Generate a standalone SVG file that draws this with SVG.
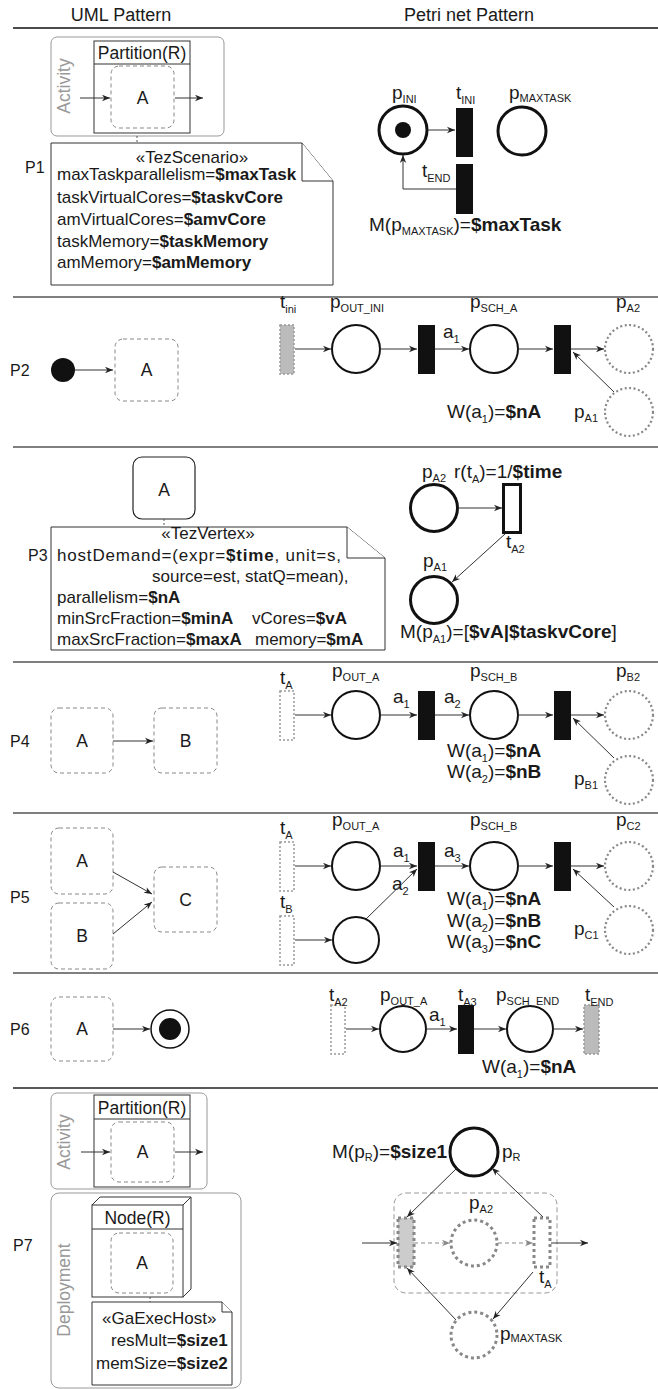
<svg xmlns="http://www.w3.org/2000/svg" width="658" height="1389" viewBox="0 0 658 1389">
<defs>
<style>
.t{font-family:"Liberation Sans",Arial,sans-serif;fill:#1a1a1a}
.hd{font-size:18px}
.pn{font-size:16px}
.ui{font-size:17.5px}
.nt{font-size:17px}
.pl{font-size:19px}
.sub{font-size:11px}
.b{font-weight:bold}
.gr{fill:#999}
.sep{stroke:#555;stroke-width:1.5}
.db{fill:none;stroke:#888;stroke-width:1;stroke-dasharray:4 3}
.box{fill:none;stroke:#333;stroke-width:1}
.gbox{fill:none;stroke:#999;stroke-width:1}
.ar{stroke:#333;stroke-width:1;fill:none;marker-end:url(#ah)}
.gar{stroke:#888;stroke-width:1;fill:none;stroke-dasharray:4 3;marker-end:url(#gah)}
.pc{fill:#fff;stroke:#111;stroke-width:2}
.tc{fill:#fff;stroke:#111;stroke-width:3}
.dc{fill:none;stroke:#888;stroke-width:2.2;stroke-dasharray:2 2.5}
.dc7{fill:none;stroke:#888;stroke-width:3;stroke-dasharray:3 3}
.bt{fill:#111}
.dt{fill:#fff;stroke:#999;stroke-width:1.5;stroke-dasharray:2 2}
.gt{fill:#bbb;stroke:#999;stroke-width:1.5;stroke-dasharray:2 2}
.dt7{fill:#fff;stroke:#888;stroke-width:3;stroke-dasharray:3 3}
.gt7{fill:#ccc;stroke:#888;stroke-width:3;stroke-dasharray:3 3}
.note{fill:#fff;stroke:#333;stroke-width:1}
</style>
<marker id="ah" viewBox="0 0 10 10" refX="10" refY="5" markerWidth="8" markerHeight="8" markerUnits="userSpaceOnUse" orient="auto"><path d="M0,1 L10,5 L0,9 L3,5 z" fill="#222"/></marker>
<marker id="gah" viewBox="0 0 10 10" refX="10" refY="5" markerWidth="8" markerHeight="8" markerUnits="userSpaceOnUse" orient="auto"><path d="M0,1 L10,5 L0,9 L3,5 z" fill="#888"/></marker>
</defs>
<rect width="658" height="1389" fill="#fff"/>

<g id="headers">
<text class="t hd" x="121" y="21" text-anchor="middle">UML Pattern</text>
<text class="t hd" x="469" y="21" text-anchor="middle">Petri net Pattern</text>
<line x1="13" y1="28" x2="658" y2="28" stroke="#111" stroke-width="1.5"/>
<line class="sep" x1="13" y1="297" x2="658" y2="297"/>
<line class="sep" x1="13" y1="447" x2="658" y2="447"/>
<line class="sep" x1="13" y1="662" x2="658" y2="662"/>
<line class="sep" x1="13" y1="813" x2="658" y2="813"/>
<line class="sep" x1="13" y1="973" x2="658" y2="973"/>
<line x1="13" y1="1088" x2="658" y2="1088" stroke="#222" stroke-width="1.5"/>
</g>

<g id="labels">
<text class="t pn" x="25" y="173">P1</text>
<text class="t pn" x="10" y="376">P2</text>
<text class="t pn" x="28" y="561">P3</text>
<text class="t pn" x="10" y="747">P4</text>
<text class="t pn" x="10" y="903">P5</text>
<text class="t pn" x="10" y="1035">P6</text>
<text class="t pn" x="13" y="1251">P7</text>
</g>

<!-- P1 UML -->
<g id="p1-activity">
<rect class="gbox" x="51" y="37" width="173" height="99" rx="6"/>
<text class="t ui gr" transform="translate(70,86) rotate(-90)" text-anchor="middle">Activity</text>
</g>
<g id="p1-partition">
<rect class="box" x="94" y="41" width="96" height="92"/>
<line class="box" x1="94" y1="64" x2="190" y2="64"/>
<text class="t ui" x="142" y="59" text-anchor="middle">Partition(R)</text>
</g>
<g id="p1-A">
<rect class="db" x="111" y="66" width="63" height="62" rx="8"/>
<text class="t ui" x="142.5" y="104" text-anchor="middle">A</text>
</g>
<g id="p1-note">
<path class="note" d="M51,143 H302 L333,181 V285 H51 Z"/>
<path class="note" fill="none" d="M302,143 V181 H333"/>
<text class="t nt" x="192" y="163" text-anchor="middle">«TezScenario»</text>
<text class="t nt" x="57" y="180">maxTaskparallelism=<tspan class="b">$maxTask</tspan></text>
<text class="t nt" x="57" y="203">taskVirtualCores=<tspan class="b">$taskvCore</tspan></text>
<text class="t nt" x="57" y="225">amVirtualCores=<tspan class="b">$amvCore</tspan></text>
<text class="t nt" x="57" y="247">taskMemory=<tspan class="b">$taskMemory</tspan></text>
<text class="t nt" x="57" y="268">amMemory=<tspan class="b">$amMemory</tspan></text>
</g>

<!-- P1 Petri -->
<g id="p1-pINI">
<circle class="tc" cx="403" cy="130" r="24"/>
<circle cx="403" cy="130" r="8" fill="#111"/>
<text class="t pl" x="392" y="99">p<tspan class="sub" dy="4">INI</tspan></text>
</g>
<g id="p1-tINI">
<rect class="bt" x="456" y="108" width="17" height="49"/>
<text class="t pl" x="456" y="99">t<tspan class="sub" dy="5">INI</tspan></text>
</g>
<g id="p1-tEND">
<rect class="bt" x="456" y="164" width="17" height="50"/>
<text class="t pl" x="422" y="177">t<tspan class="sub" dy="5">END</tspan></text>
</g>
<g id="p1-pMAXTASK">
<circle class="tc" cx="522" cy="131" r="24"/>
<text class="t pl" x="509" y="99">p<tspan class="sub" dy="3">MAXTASK</tspan></text>
</g>
<text class="t pl" x="369" y="231">M(p<tspan class="sub" dy="4">MAXTASK</tspan><tspan dy="-4">)=</tspan><tspan class="b">$maxTask</tspan></text>

<!-- P2 UML -->
<g id="p2-init">
<circle cx="63" cy="370" r="12" fill="#111"/>
</g>
<g id="p2-A">
<rect class="db" x="115" y="339" width="63" height="62" rx="8"/>
<text class="t ui" x="146.5" y="376" text-anchor="middle">A</text>
</g>

<!-- P2 Petri -->
<g id="p2-tini">
<rect class="gt" x="280" y="325" width="14" height="49"/>
<text class="t pl" x="280" y="308">t<tspan class="sub" dy="5">ini</tspan></text>
</g>
<g id="p2-pOUT">
<circle class="pc" cx="356" cy="349" r="24"/>
<text class="t pl" x="330" y="308">p<tspan class="sub" dy="4">OUT_INI</tspan></text>
</g>
<g id="p2-t1"><rect class="bt" x="418" y="325" width="17" height="49"/>
<text class="t pl" x="443" y="338">a<tspan class="sub" dy="5">1</tspan></text></g>
<g id="p2-pSCH">
<circle class="pc" cx="494" cy="349" r="24"/>
<text class="t pl" x="470" y="308">p<tspan class="sub" dy="4">SCH_A</tspan></text>
</g>
<g id="p2-t2"><rect class="bt" x="554" y="325" width="17" height="49"/></g>
<g id="p2-pA2">
<circle class="dc" cx="629" cy="349" r="24"/>
<text class="t pl" x="616" y="308">p<tspan class="sub" dy="4">A2</tspan></text>
</g>
<g id="p2-pA1">
<circle class="dc" cx="629" cy="412" r="24"/>
<text class="t pl" x="574" y="418">p<tspan class="sub" dy="4">A1</tspan></text>
</g>
<text class="t pl" x="447" y="418">W(a<tspan class="sub" dy="5">1</tspan><tspan dy="-5">)=</tspan><tspan class="b">$nA</tspan></text>

<!-- P3 UML -->
<g id="p3-A">
<rect x="133" y="457" width="62" height="62" rx="9" fill="none" stroke="#222" stroke-width="1.2"/>
<text class="t ui" x="164" y="496" text-anchor="middle">A</text>
</g>
<g id="p3-note">
<path class="note" d="M51,527 H347 L385,558 V650 H51 Z"/>
<path class="note" fill="none" d="M347,527 V558 H385"/>
<text class="t nt" x="208" y="539" text-anchor="middle">«TezVertex»</text>
<text class="t nt" x="57" y="561" textLength="284" lengthAdjust="spacing">hostDemand=(expr=<tspan class="b">$time</tspan>, unit=s,</text>
<text class="t nt" x="152" y="582">source=est, statQ=mean),</text>
<text class="t nt" x="57" y="603">parallelism=<tspan class="b">$nA</tspan></text>
<text class="t nt" x="57" y="624">minSrcFraction=<tspan class="b">$minA</tspan></text>
<text class="t nt" x="252" y="624">vCores=<tspan class="b">$vA</tspan></text>
<text class="t nt" x="57" y="645">maxSrcFraction=<tspan class="b">$maxA</tspan></text>
<text class="t nt" x="255" y="645">memory=<tspan class="b">$mA</tspan></text>
</g>

<!-- P3 Petri -->
<g id="p3-pA2">
<circle class="tc" cx="434" cy="508" r="23.5"/>
<text class="t pl" x="422" y="478">p<tspan class="sub" dy="4">A2</tspan></text>
</g>
<g id="p3-tA2">
<rect x="503.5" y="484.5" width="17" height="48" fill="#fff" stroke="#111" stroke-width="3"/>
<text class="t pl" x="454" y="478">r(t<tspan class="sub" dy="5">A</tspan><tspan dy="-5">)=1/</tspan><tspan class="b">$time</tspan></text>
<text class="t pl" x="506" y="548">t<tspan class="sub" dy="5">A2</tspan></text>
</g>
<g id="p3-pA1">
<circle class="tc" cx="434" cy="600" r="23.5"/>
<text class="t pl" x="423" y="567">p<tspan class="sub" dy="4">A1</tspan></text>
</g>
<text class="t pl" x="400" y="638">M(p<tspan class="sub" dy="5">A1</tspan><tspan dy="-5">)=[</tspan><tspan class="b">$vA|$taskvCore</tspan>]</text>

<!-- P4 UML -->
<g id="p4-A"><rect class="db" x="51" y="708" width="62" height="65" rx="8"/>
<text class="t ui" x="82" y="747" text-anchor="middle">A</text></g>
<g id="p4-B"><rect class="db" x="154" y="708" width="63" height="65" rx="8"/>
<text class="t ui" x="185.5" y="747" text-anchor="middle">B</text></g>

<!-- P4 Petri -->
<g id="p4-tA"><rect class="dt" x="280" y="691" width="14" height="49"/>
<text class="t pl" x="280" y="684">t<tspan class="sub" dy="5">A</tspan></text></g>
<g id="p4-pOUT"><circle class="pc" cx="356" cy="715" r="24"/>
<text class="t pl" x="332" y="677">p<tspan class="sub" dy="4">OUT_A</tspan></text></g>
<g id="p4-t1"><rect class="bt" x="418" y="691" width="17" height="49"/></g>
<text class="t pl" x="393" y="703">a<tspan class="sub" dy="5">1</tspan></text>
<text class="t pl" x="444" y="703">a<tspan class="sub" dy="5">2</tspan></text>
<g id="p4-pSCH"><circle class="pc" cx="494" cy="715" r="24"/>
<text class="t pl" x="470" y="677">p<tspan class="sub" dy="4">SCH_B</tspan></text></g>
<g id="p4-t2"><rect class="bt" x="554" y="691" width="17" height="49"/></g>
<g id="p4-pB2"><circle class="dc" cx="629" cy="715" r="24"/>
<text class="t pl" x="616" y="677">p<tspan class="sub" dy="4">B2</tspan></text></g>
<g id="p4-pB1"><circle class="dc" cx="629" cy="780" r="24"/>
<text class="t pl" x="574" y="785">p<tspan class="sub" dy="4">B1</tspan></text></g>
<text class="t pl" x="447" y="757">W(a<tspan class="sub" dy="5">1</tspan><tspan dy="-5">)=</tspan><tspan class="b">$nA</tspan></text>
<text class="t pl" x="447" y="778">W(a<tspan class="sub" dy="5">2</tspan><tspan dy="-5">)=</tspan><tspan class="b">$nB</tspan></text>

<!-- P5 UML -->
<g id="p5-A"><rect class="db" x="51" y="828" width="62" height="66" rx="8"/>
<text class="t ui" x="82" y="867" text-anchor="middle">A</text></g>
<g id="p5-B"><rect class="db" x="51" y="903" width="62" height="66" rx="8"/>
<text class="t ui" x="82" y="942" text-anchor="middle">B</text></g>
<g id="p5-C"><rect class="db" x="154" y="867" width="63" height="65" rx="8"/>
<text class="t ui" x="185.5" y="906" text-anchor="middle">C</text></g>

<!-- P5 Petri -->
<g id="p5-tA"><rect class="dt" x="280" y="842" width="14" height="49"/>
<text class="t pl" x="280" y="834">t<tspan class="sub" dy="5">A</tspan></text></g>
<g id="p5-tB"><rect class="dt" x="280" y="916" width="14" height="49"/>
<text class="t pl" x="280" y="908">t<tspan class="sub" dy="5">B</tspan></text></g>
<g id="p5-pOUT"><circle class="pc" cx="356" cy="866" r="24"/>
<text class="t pl" x="332" y="826">p<tspan class="sub" dy="4">OUT_A</tspan></text></g>
<g id="p5-pB"><circle class="pc" cx="356" cy="940" r="23"/></g>
<g id="p5-t1"><rect class="bt" x="418" y="842" width="17" height="49"/></g>
<text class="t pl" x="393" y="857">a<tspan class="sub" dy="5">1</tspan></text>
<text class="t pl" x="392" y="890">a<tspan class="sub" dy="5">2</tspan></text>
<text class="t pl" x="444" y="857">a<tspan class="sub" dy="5">3</tspan></text>
<g id="p5-pSCH"><circle class="pc" cx="494" cy="866" r="24"/>
<text class="t pl" x="470" y="826">p<tspan class="sub" dy="4">SCH_B</tspan></text></g>
<g id="p5-t2"><rect class="bt" x="554" y="842" width="17" height="49"/></g>
<g id="p5-pC2"><circle class="dc" cx="629" cy="866" r="24"/>
<text class="t pl" x="616" y="826">p<tspan class="sub" dy="4">C2</tspan></text></g>
<g id="p5-pC1"><circle class="dc" cx="629" cy="930" r="24"/>
<text class="t pl" x="574" y="935">p<tspan class="sub" dy="4">C1</tspan></text></g>
<text class="t pl" x="447" y="905">W(a<tspan class="sub" dy="5">1</tspan><tspan dy="-5">)=</tspan><tspan class="b">$nA</tspan></text>
<text class="t pl" x="447" y="927">W(a<tspan class="sub" dy="5">2</tspan><tspan dy="-5">)=</tspan><tspan class="b">$nB</tspan></text>
<text class="t pl" x="447" y="948">W(a<tspan class="sub" dy="5">3</tspan><tspan dy="-5">)=</tspan><tspan class="b">$nC</tspan></text>

<!-- P6 UML -->
<g id="p6-A"><rect class="db" x="51" y="997" width="62" height="64" rx="8"/>
<text class="t ui" x="82" y="1035" text-anchor="middle">A</text></g>
<g id="p6-final"><circle cx="170" cy="1029" r="19" fill="#fff" stroke="#111" stroke-width="1.5"/>
<circle cx="170" cy="1029" r="11" fill="#111"/></g>

<!-- P6 Petri -->
<g id="p6-tA2"><rect class="dt" x="331" y="1005" width="14" height="49"/>
<text class="t pl" x="329" y="1001">t<tspan class="sub" dy="5">A2</tspan></text></g>
<g id="p6-pOUT"><circle class="pc" cx="403" cy="1029" r="23"/>
<text class="t pl" x="380" y="1001">p<tspan class="sub" dy="4">OUT_A</tspan></text></g>
<text class="t pl" x="429" y="1021">a<tspan class="sub" dy="5">1</tspan></text>
<g id="p6-tA3"><rect class="bt" x="458" y="1005" width="16" height="49"/>
<text class="t pl" x="458" y="1001">t<tspan class="sub" dy="5">A3</tspan></text></g>
<g id="p6-pSCH"><circle class="pc" cx="530" cy="1029" r="23"/>
<text class="t pl" x="496" y="1001">p<tspan class="sub" dy="4">SCH_END</tspan></text></g>
<g id="p6-tEND"><rect class="gt" x="584" y="1005" width="15" height="49"/>
<text class="t pl" x="585" y="1001">t<tspan class="sub" dy="5">END</tspan></text></g>
<text class="t pl" x="482" y="1073">W(a<tspan class="sub" dy="5">1</tspan><tspan dy="-5">)=</tspan><tspan class="b">$nA</tspan></text>

<!-- P7 UML -->
<g id="p7-activity">
<rect class="gbox" x="51" y="1093" width="156" height="96" rx="6"/>
<text class="t ui gr" transform="translate(70,1142) rotate(-90)" text-anchor="middle">Activity</text>
</g>
<g id="p7-partition">
<rect class="box" x="94" y="1095" width="96" height="92"/>
<line class="box" x1="94" y1="1119" x2="190" y2="1119"/>
<text class="t ui" x="142" y="1114" text-anchor="middle">Partition(R)</text>
</g>
<g id="p7-A1"><rect class="db" x="111" y="1122" width="63" height="60" rx="8"/>
<text class="t ui" x="142.5" y="1158" text-anchor="middle">A</text></g>
<g id="p7-deployment">
<rect class="gbox" x="51" y="1193" width="190" height="195" rx="8"/>
<text class="t ui gr" transform="translate(70,1290) rotate(-90)" text-anchor="middle">Deployment</text>
</g>
<g id="p7-node">
<path class="box" fill="#fff" d="M92,1205 L100,1197 H191 V1289 L183,1297 M183,1205 L191,1197"/>
<rect class="box" x="92" y="1205" width="91" height="92"/>
<line class="box" x1="92" y1="1229" x2="183" y2="1229"/>
<text class="t ui" x="137.5" y="1224" text-anchor="middle">Node(R)</text>
</g>
<g id="p7-A2"><rect class="db" x="111" y="1233" width="62" height="60" rx="8"/>
<text class="t ui" x="142" y="1269" text-anchor="middle">A</text></g>
<g id="p7-note">
<path class="note" d="M92,1302 H222 L232,1312 V1385 H92 Z"/>
<path class="note" fill="none" d="M222,1302 V1312 H232"/>
<text class="t nt" x="102" y="1324">«GaExecHost»</text>
<text class="t nt" x="111" y="1346">resMult=<tspan class="b">$size1</tspan></text>
<text class="t nt" x="96" y="1369">memSize=<tspan class="b">$size2</tspan></text>
</g>

<!-- P7 Petri -->
<g id="p7-pR">
<circle class="tc" cx="474" cy="1152" r="24"/>
<text class="t pl" x="502" y="1158">p<tspan class="sub" dy="3">R</tspan></text>
<text class="t pl" x="332" y="1158">M(p<tspan class="sub" dy="3">R</tspan><tspan dy="-3">)=</tspan><tspan class="b">$size1</tspan></text>
</g>
<g id="p7-group"><rect x="394" y="1193" width="163" height="100" rx="12" fill="none" stroke="#999" stroke-width="1" stroke-dasharray="5 3"/></g>
<g id="p7-tleft"><rect class="gt7" x="398" y="1218" width="16" height="49"/></g>
<g id="p7-pA2"><circle class="dc7" cx="474" cy="1243" r="23"/>
<text class="t pl" x="469" y="1209">p<tspan class="sub" dy="4">A2</tspan></text></g>
<g id="p7-tA"><rect class="dt7" x="534" y="1218" width="16" height="49"/>
<text class="t pl" x="539" y="1283">t<tspan class="sub" dy="5">A</tspan></text></g>
<g id="p7-pMAXTASK"><circle class="dc7" cx="474" cy="1335" r="23"/>
<text class="t pl" x="500" y="1340">p<tspan class="sub" dy="2">MAXTASK</tspan></text></g>

<g id="connectors">
<line class="ar" x1="80" y1="98" x2="110" y2="98"/>
<line class="ar" x1="175" y1="98" x2="203" y2="98"/>
<line x1="137" y1="136" x2="137" y2="143" stroke="#555" stroke-dasharray="2 2"/>
<line class="ar" x1="428" y1="130" x2="455" y2="130"/>
<path class="ar" d="M456,189 H403 V155"/>
<line class="ar" x1="75" y1="370" x2="113" y2="370"/>
<line class="ar" x1="295" y1="349" x2="331" y2="349"/>
<line class="ar" x1="380" y1="349" x2="417" y2="349"/>
<line class="ar" x1="435" y1="349" x2="469" y2="349"/>
<line class="ar" x1="518" y1="349" x2="553" y2="349"/>
<line class="ar" x1="571" y1="349" x2="604" y2="349"/>
<line class="ar" x1="614" y1="392" x2="573" y2="352"/>
<line x1="164" y1="519" x2="164" y2="527" stroke="#555" stroke-dasharray="2 2"/>
<line class="ar" x1="458" y1="508" x2="502" y2="508" stroke="#666"/>
<line class="ar" x1="505" y1="534" x2="452" y2="582"/>
<line class="ar" x1="113" y1="741" x2="153" y2="741"/>
<line class="ar" x1="295" y1="715" x2="331" y2="715"/>
<line class="ar" x1="380" y1="715" x2="417" y2="715"/>
<line class="ar" x1="435" y1="715" x2="469" y2="715"/>
<line class="ar" x1="518" y1="715" x2="553" y2="715"/>
<line class="ar" x1="571" y1="715" x2="604" y2="715"/>
<line class="ar" x1="614" y1="758" x2="573" y2="718"/>
<line class="ar" x1="113" y1="872" x2="152" y2="894"/>
<line class="ar" x1="113" y1="934" x2="152" y2="902"/>
<line class="ar" x1="295" y1="866" x2="331" y2="866"/>
<line class="ar" x1="295" y1="940" x2="332" y2="940"/>
<line class="ar" x1="380" y1="866" x2="417" y2="866"/>
<line class="ar" x1="366" y1="919" x2="417" y2="869"/>
<line class="ar" x1="435" y1="866" x2="469" y2="866"/>
<line class="ar" x1="518" y1="866" x2="553" y2="866"/>
<line class="ar" x1="571" y1="866" x2="604" y2="866"/>
<line class="ar" x1="614" y1="907" x2="573" y2="869"/>
<line class="ar" x1="113" y1="1029" x2="150" y2="1029"/>
<line class="ar" x1="346" y1="1029" x2="379" y2="1029"/>
<line class="ar" x1="426" y1="1029" x2="457" y2="1029"/>
<line class="ar" x1="474" y1="1029" x2="506" y2="1029"/>
<line class="ar" x1="553" y1="1029" x2="583" y2="1029"/>
<line class="ar" x1="81" y1="1152" x2="110" y2="1152"/>
<line class="ar" x1="175" y1="1152" x2="203" y2="1152"/>
<line x1="150" y1="1297" x2="150" y2="1302" stroke="#555" stroke-dasharray="2 2"/>
<line class="ar" x1="362" y1="1243" x2="397" y2="1243"/>
<line class="ar" x1="551" y1="1243" x2="588" y2="1243"/>
<line class="gar" x1="414" y1="1243" x2="450" y2="1243"/>
<line class="gar" x1="498" y1="1243" x2="533" y2="1243"/>
<line class="ar" x1="457" y1="1168" x2="407" y2="1217"/>
<line class="ar" x1="543" y1="1217" x2="492" y2="1168"/>
<line class="ar" x1="533" y1="1272" x2="493" y2="1319"/>
<line class="ar" x1="456" y1="1320" x2="407" y2="1268"/>
</g>
</svg>
